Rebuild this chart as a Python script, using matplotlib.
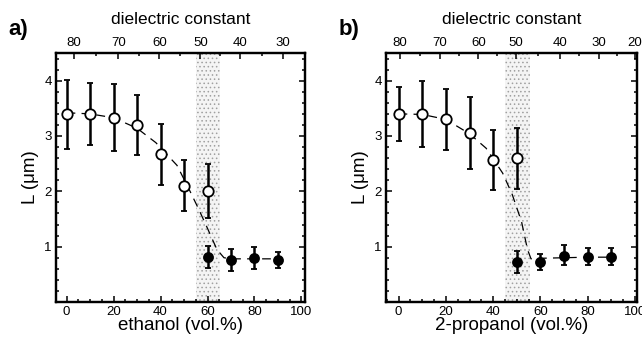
import matplotlib
matplotlib.use("Agg")
import matplotlib.pyplot as plt
from matplotlib.ticker import MultipleLocator, FixedLocator

plt.rcParams['font.family'] = ['Liberation Sans', 'DejaVu Sans']
plt.rcParams['hatch.linewidth'] = 0.6

# ---- panel a: ethanol ----
eth_open_x = [0, 10, 20, 30, 40, 50, 60]
eth_open_y = [3.40, 3.40, 3.33, 3.20, 2.68, 2.10, 2.00]
eth_open_hi = [4.02, 3.96, 3.94, 3.75, 3.22, 2.56, 2.50]
eth_open_lo = [2.77, 2.83, 2.73, 2.65, 2.12, 1.64, 1.52]
eth_fill_x = [60, 70, 80, 90]
eth_fill_y = [0.82, 0.76, 0.80, 0.76]
eth_fill_hi = [1.02, 0.95, 1.00, 0.90]
eth_fill_lo = [0.62, 0.56, 0.60, 0.62]
eth_fit_x = [0, 10, 20, 30, 38, 47, 52, 56, 60, 64, 67, 70, 80, 90]
eth_fit_y = [3.42, 3.40, 3.33, 3.14, 2.88, 2.47, 2.05, 1.70, 1.33, 0.95, 0.80, 0.78, 0.78, 0.78]
eth_band = (55, 65.5)
eth_eps_pos = [3, 22, 39.5, 57, 74, 92]
eth_eps_lab = ['80', '70', '60', '50', '40', '30']

# ---- panel b: 2-propanol ----
pro_open_x = [0, 10, 20, 30, 40, 50]
pro_open_y = [3.40, 3.40, 3.30, 3.05, 2.56, 2.60]
pro_open_hi = [3.89, 4.00, 3.85, 3.70, 3.10, 3.15]
pro_open_lo = [2.91, 2.80, 2.75, 2.40, 2.02, 2.05]
pro_fill_x = [50, 60, 70, 80, 90]
pro_fill_y = [0.72, 0.72, 0.84, 0.82, 0.82]
pro_fill_hi = [0.92, 0.86, 1.03, 0.97, 0.97]
pro_fill_lo = [0.52, 0.58, 0.67, 0.67, 0.67]
pro_fit_x = [0, 10, 20, 30, 37, 44, 48, 52, 54.5, 56, 60, 70, 80, 90]
pro_fit_y = [3.40, 3.39, 3.30, 3.04, 2.78, 2.33, 1.95, 1.45, 0.95, 0.78, 0.79, 0.80, 0.81, 0.81]
pro_band = (45, 55.5)
pro_eps_pos = [0.5, 17.6, 33.8, 49.6, 68.3, 84.6, 100]
pro_eps_lab = ['80', '70', '60', '50', '40', '30', '20']

W, H = 642, 337
fig = plt.figure(figsize=(W / 100, H / 100), dpi=100)


def panel(rect, xlim, ox, oy, ohi, olo, fx, fy, fhi, flo, fitx, fity,
          band, epos, elab, xlabel, tag, tagx):
    ax = fig.add_axes(rect)
    ax.axvspan(band[0], band[1], facecolor='#f4f4f4', edgecolor='#a0a0a0',
               hatch='....', linewidth=0, zorder=0)
    ax.plot(fitx, fity, color='black', lw=0.9, dashes=(7, 5), zorder=2)
    ax.errorbar(ox, oy, yerr=[[y - l for y, l in zip(oy, olo)],
                              [h - y for y, h in zip(oy, ohi)]],
                fmt='o', ms=7.5, mfc='white', mec='black', mew=1.3,
                ecolor='black', elinewidth=1.8, capsize=2, capthick=1.2, zorder=3)
    ax.errorbar(fx, fy, yerr=[[y - l for y, l in zip(fy, flo)],
                              [h - y for y, h in zip(fy, fhi)]],
                fmt='o', ms=6.5, mfc='black', mec='black', mew=1.3,
                ecolor='black', elinewidth=1.8, capsize=2, capthick=1.2, zorder=3)
    ax.set_xlim(*xlim)
    ax.set_ylim(0, 4.5)
    ax.xaxis.set_major_locator(MultipleLocator(20))
    ax.xaxis.set_minor_locator(MultipleLocator(5))
    ax.yaxis.set_major_locator(FixedLocator([1, 2, 3, 4]))
    ax.yaxis.set_minor_locator(MultipleLocator(0.2))
    ax.tick_params(which='both', direction='in', right=True, top=False,
                   labelsize=9.5, width=1.1)
    ax.tick_params(which='major', length=4)
    ax.tick_params(which='minor', length=2)
    ax.tick_params(axis='x', pad=3)
    ax.tick_params(axis='y', pad=3)
    for s in ax.spines.values():
        s.set_linewidth(1.6)
    ax.set_xlabel(xlabel, fontsize=13.5, labelpad=-1)
    ax.set_ylabel('L (\u03bcm)', fontsize=13.5, labelpad=4)

    top = ax.twiny()
    top.set_xlim(*xlim)
    top.set_xticks(epos)
    top.set_xticklabels(elab)
    mids = [(a + b) / 2 for a, b in zip(epos[:-1], epos[1:])]
    top.xaxis.set_minor_locator(FixedLocator(mids))
    top.tick_params(which='both', direction='in', labelsize=9.5, width=1.1, pad=3)
    top.tick_params(which='major', length=4)
    top.tick_params(which='minor', length=2)
    top.set_xlabel('dielectric constant', fontsize=12.5, labelpad=9)
    for s in top.spines.values():
        s.set_linewidth(1.6)
    fig.text(tagx, 1 - 30 / H, tag, fontsize=16, fontweight='bold',
             ha='center', va='center')
    return ax


panel([56 / W, 35 / H, 249 / W, 249 / H], (-4.5, 101.5),
      eth_open_x, eth_open_y, eth_open_hi, eth_open_lo,
      eth_fill_x, eth_fill_y, eth_fill_hi, eth_fill_lo,
      eth_fit_x, eth_fit_y, eth_band, eth_eps_pos, eth_eps_lab,
      'ethanol (vol.%)', 'a)', 18 / W)
panel([386 / W, 35 / H, 251 / W, 249 / H], (-5.3, 100.8),
      pro_open_x, pro_open_y, pro_open_hi, pro_open_lo,
      pro_fill_x, pro_fill_y, pro_fill_hi, pro_fill_lo,
      pro_fit_x, pro_fit_y, pro_band, pro_eps_pos, pro_eps_lab,
      '2-propanol (vol.%)', 'b)', 349 / W)

fig.savefig('out.png', dpi=100)
